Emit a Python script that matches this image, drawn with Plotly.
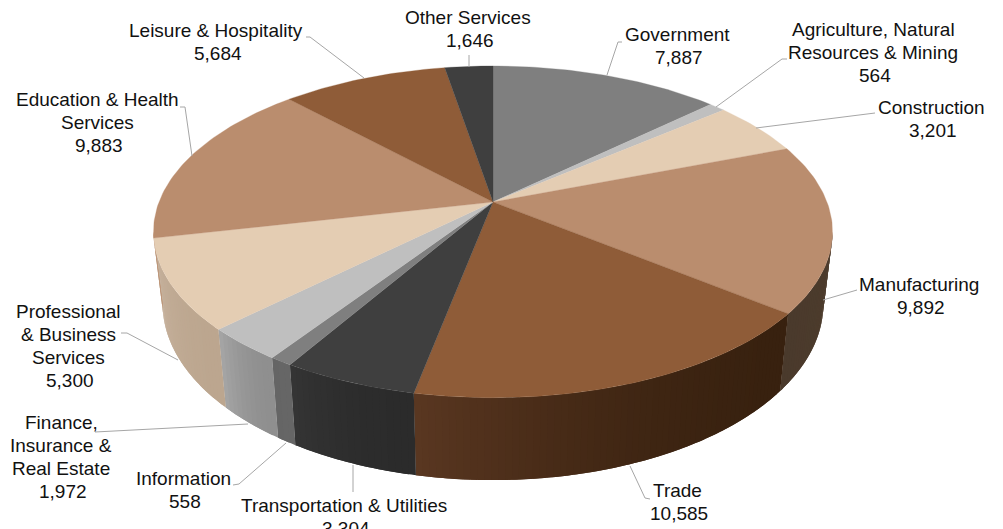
import numpy as np
import plotly.graph_objects as go

# ---- data ----
categories = ["Government", "Agriculture, Natural Resources & Mining", "Construction", "Manufacturing",
              "Trade", "Transportation & Utilities", "Information", "Finance, Insurance & Real Estate",
              "Professional & Business Services", "Education & Health Services",
              "Leisure & Hospitality", "Other Services"]
values = [7887, 564, 3201, 9892, 10585, 3304, 558, 1972, 5300, 9883, 5684, 1646]
top_colors = ["#7f7f7f", "#bfbfbf", "#e4cdb3", "#ba8d6e", "#8f5c38", "#3f3f3f",
              "#7f7f7f", "#bfbfbf", "#e4cdb3", "#ba8d6e", "#8f5c38", "#3f3f3f"]
# wall shading at the start / end of each slice (clockwise)
wall_start = ["#7f7f7f", "#bfbfbf", "#e4cdb3", "#4c3b2c", "#38210f", "#2b2b2b",
              "#666666", "#8f8f8f", "#bca68f", "#ba8d6e", "#8f5c38", "#3f3f3f"]
wall_end = ["#7f7f7f", "#bfbfbf", "#e4cdb3", "#4a3a2c", "#5a3721", "#343434",
            "#646464", "#a6a6a6", "#cab6a2", "#ba8d6e", "#8f5c38", "#3f3f3f"]
labels = ["Government<br>7,887", "Agriculture, Natural<br>Resources & Mining<br>564", "Construction<br>3,201",
          "Manufacturing<br>9,892", "Trade<br>10,585", "Transportation & Utilities<br>3,304",
          "Information<br>558", "Finance,<br>Insurance &<br>Real Estate<br>1,972",
          "Professional<br>& Business<br>Services<br>5,300", "Education & Health<br>Services<br>9,883",
          "Leisure & Hospitality<br>5,684", "Other Services<br>1,646"]
label_x = [677, 873, 931, 919, 677, 344, 183, 61, 68, 97, 216, 468]
label_y = [46.5, 53, 119.5, 296, 502.5, 517.5, 490.5, 457.5, 346.5, 123, 42.5, 29.5]
leaders = [
    [(607, 75), (618, 42), (622, 42)],
    [(716, 107), (782, 59), (787, 59)],
    [(756, 128), (875, 113)],
    [(823, 300), (857, 290)],
    [(630, 466), (645, 498), (650, 499)],
    [(353, 465), (353, 492)],
    [(286, 443), (239, 484), (233, 485)],
    [(248, 424), (95, 432)],
    [(178, 360), (127, 333), (121, 333)],
    [(192, 156), (185, 107), (180, 107)],
    [(364, 78), (310, 37), (306, 37)],
    [(469, 67), (469, 55)],
]

# ---- perspective geometry of the disc ----
CX, CY, A, B, K = 493.0, 202.0, 334.0, 160.5, 0.18
LINE_H = 22.8


def top_pt(theta):
    u, v = np.sin(theta), -np.cos(theta)
    d = 1 - K * v
    return CX + A * u / d, CY + B * v / d


def bot_pt(theta):
    x, y = top_pt(theta)
    return CX + 0.973 * (x - CX), 1.0625 * y + 57.5


def hex2rgb(h):
    return np.array([int(h[i:i + 2], 16) for i in (1, 3, 5)], dtype=float)


def mix(a, b, t):
    c = hex2rgb(a) * (1 - t) + hex2rgb(b) * t
    return "rgb(%d,%d,%d)" % tuple(np.round(c))


fracs = np.cumsum([0] + values) / sum(values)
angles = fracs * 2 * np.pi
fig = go.Figure()
theta_min = np.pi - np.arccos(K)      # right silhouette
theta_max = np.pi + np.arccos(K)      # left silhouette

# walls (front half only); each strip overlaps the next one so no seams show
for i in range(len(values)):
    a0, a1 = max(angles[i], theta_min), min(angles[i + 1], theta_max)
    if a1 <= a0:
        continue
    n = max(1, int(np.degrees(a1 - a0) / 1.0))
    edges = np.linspace(a0, a1, n + 1)
    for j in range(n):
        fine = np.linspace(edges[j], a1 if j >= n - 2 else edges[j + 2], 4)
        tx, ty = top_pt(fine)
        bx, by = bot_pt(fine)
        col = mix(wall_start[i], wall_end[i], ((j + 0.5) / n) ** 2)
        fig.add_trace(go.Scatter(x=np.r_[tx, bx[::-1], tx[0]], y=np.r_[ty, by[::-1], ty[0]],
                                 mode="none", fill="toself", fillcolor=col,
                                 hoverinfo="skip", showlegend=False))

# top face slices
for i in range(len(values)):
    th = np.linspace(angles[i], angles[i + 1], max(3, int(np.degrees(angles[i + 1] - angles[i]))))
    x, y = top_pt(th)
    fig.add_trace(go.Scatter(x=np.r_[CX, x, CX], y=np.r_[CY, y, CY], mode="lines", fill="toself",
                             fillcolor=top_colors[i], line=dict(color=top_colors[i], width=0.3),
                             name=categories[i], showlegend=False))

# leader lines
for pts in leaders:
    fig.add_trace(go.Scatter(x=[p[0] for p in pts], y=[p[1] for p in pts], mode="lines",
                             line=dict(color="#a6a6a6", width=1), hoverinfo="skip", showlegend=False))

for t, lx, ly in zip(labels, label_x, label_y):
    parts = t.split("<br>")
    for k, part in enumerate(parts):
        # the numeric line sits about 2 px right of the name lines in the reference
        dx = 2 if k == len(parts) - 1 else 0
        fig.add_annotation(x=lx + dx, y=ly - 0.4 + (k - (len(parts) - 1) / 2) * LINE_H, text=part, showarrow=False,
                           xanchor="center", yanchor="middle", align="center",
                           font=dict(family="Liberation Sans", size=19, color="#111111"))

fig.update_layout(width=1003, height=529, margin=dict(l=0, r=0, t=0, b=0), paper_bgcolor="white",
                  plot_bgcolor="white", autosize=False,
                  xaxis=dict(range=[0, 1003], visible=False, fixedrange=True),
                  yaxis=dict(range=[529, 0], visible=False, fixedrange=True))
fig.write_html("out.html", config=dict(displayModeBar=False),
               post_script="document.body.style.margin='0';document.documentElement.style.overflow='hidden';")
